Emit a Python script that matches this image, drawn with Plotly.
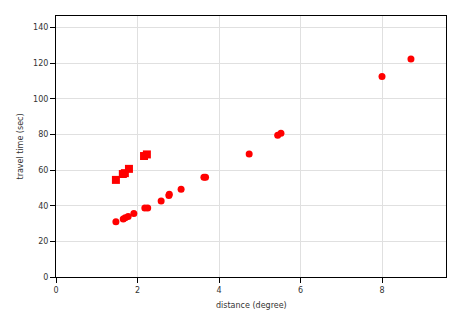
import plotly.graph_objects as go

circle_x = [1.47, 1.65, 1.70, 1.77, 1.91, 2.18, 2.25, 2.58, 2.77, 2.78, 3.07, 3.63, 3.67, 4.74, 5.44, 5.52, 8.00, 8.71]
circle_y = [31.0, 32.5, 33.2, 34.0, 35.6, 38.7, 38.7, 42.6, 45.8, 46.5, 49.3, 56.0, 56.0, 69.0, 79.5, 80.7, 112.6, 122.3]
square_x = [1.47, 1.64, 1.69, 1.79, 2.16, 2.23]
square_y = [54.5, 57.8, 58.3, 60.7, 67.9, 68.8]

x_ticks = [0, 2, 4, 6, 8]
y_ticks = [0, 20, 40, 60, 80, 100, 120, 140]

W, H = 465, 315
L, R, T, B = 56, 19, 16, 38

fig = go.Figure()
fig.add_trace(go.Scatter(x=circle_x, y=circle_y, mode="markers",
                         marker=dict(symbol="circle", size=7, color="#ff0000", line=dict(width=0)),
                         showlegend=False))
fig.add_trace(go.Scatter(x=square_x, y=square_y, mode="markers",
                         marker=dict(symbol="square", size=8, color="#ff0000", line=dict(width=0)),
                         showlegend=False))

axis_common = dict(showline=True, linecolor="black", linewidth=1, mirror=True,
                   ticks="outside", ticklen=5, tickcolor="black",
                   showgrid=True, gridcolor="#e0e0e0", gridwidth=1.3, zeroline=False,
                   automargin=False,
                   tickfont=dict(family="DejaVu Sans", size=8, color="#333"))
fig.update_xaxes(range=[0, 9.57], tickvals=x_ticks, **axis_common)
fig.update_yaxes(range=[0, 146.5], tickvals=y_ticks, **axis_common)

title_font = dict(family="DejaVu Sans", size=8, color="#333")
fig.add_annotation(text="distance (degree)", xref="paper", yref="paper",
                   x=0.5, y=-(305 - (H - B)) / (H - T - B), yanchor="middle",
                   showarrow=False, font=title_font)
fig.add_annotation(text="travel time (sec)", xref="paper", yref="paper",
                   x=-(L - 20) / (W - L - R), y=0.5, xanchor="center", textangle=-90,
                   showarrow=False, font=title_font)

fig.update_layout(width=W, height=H, margin=dict(l=L, r=R, t=T, b=B),
                  plot_bgcolor="white", paper_bgcolor="white")
fig.write_html("out.html")
